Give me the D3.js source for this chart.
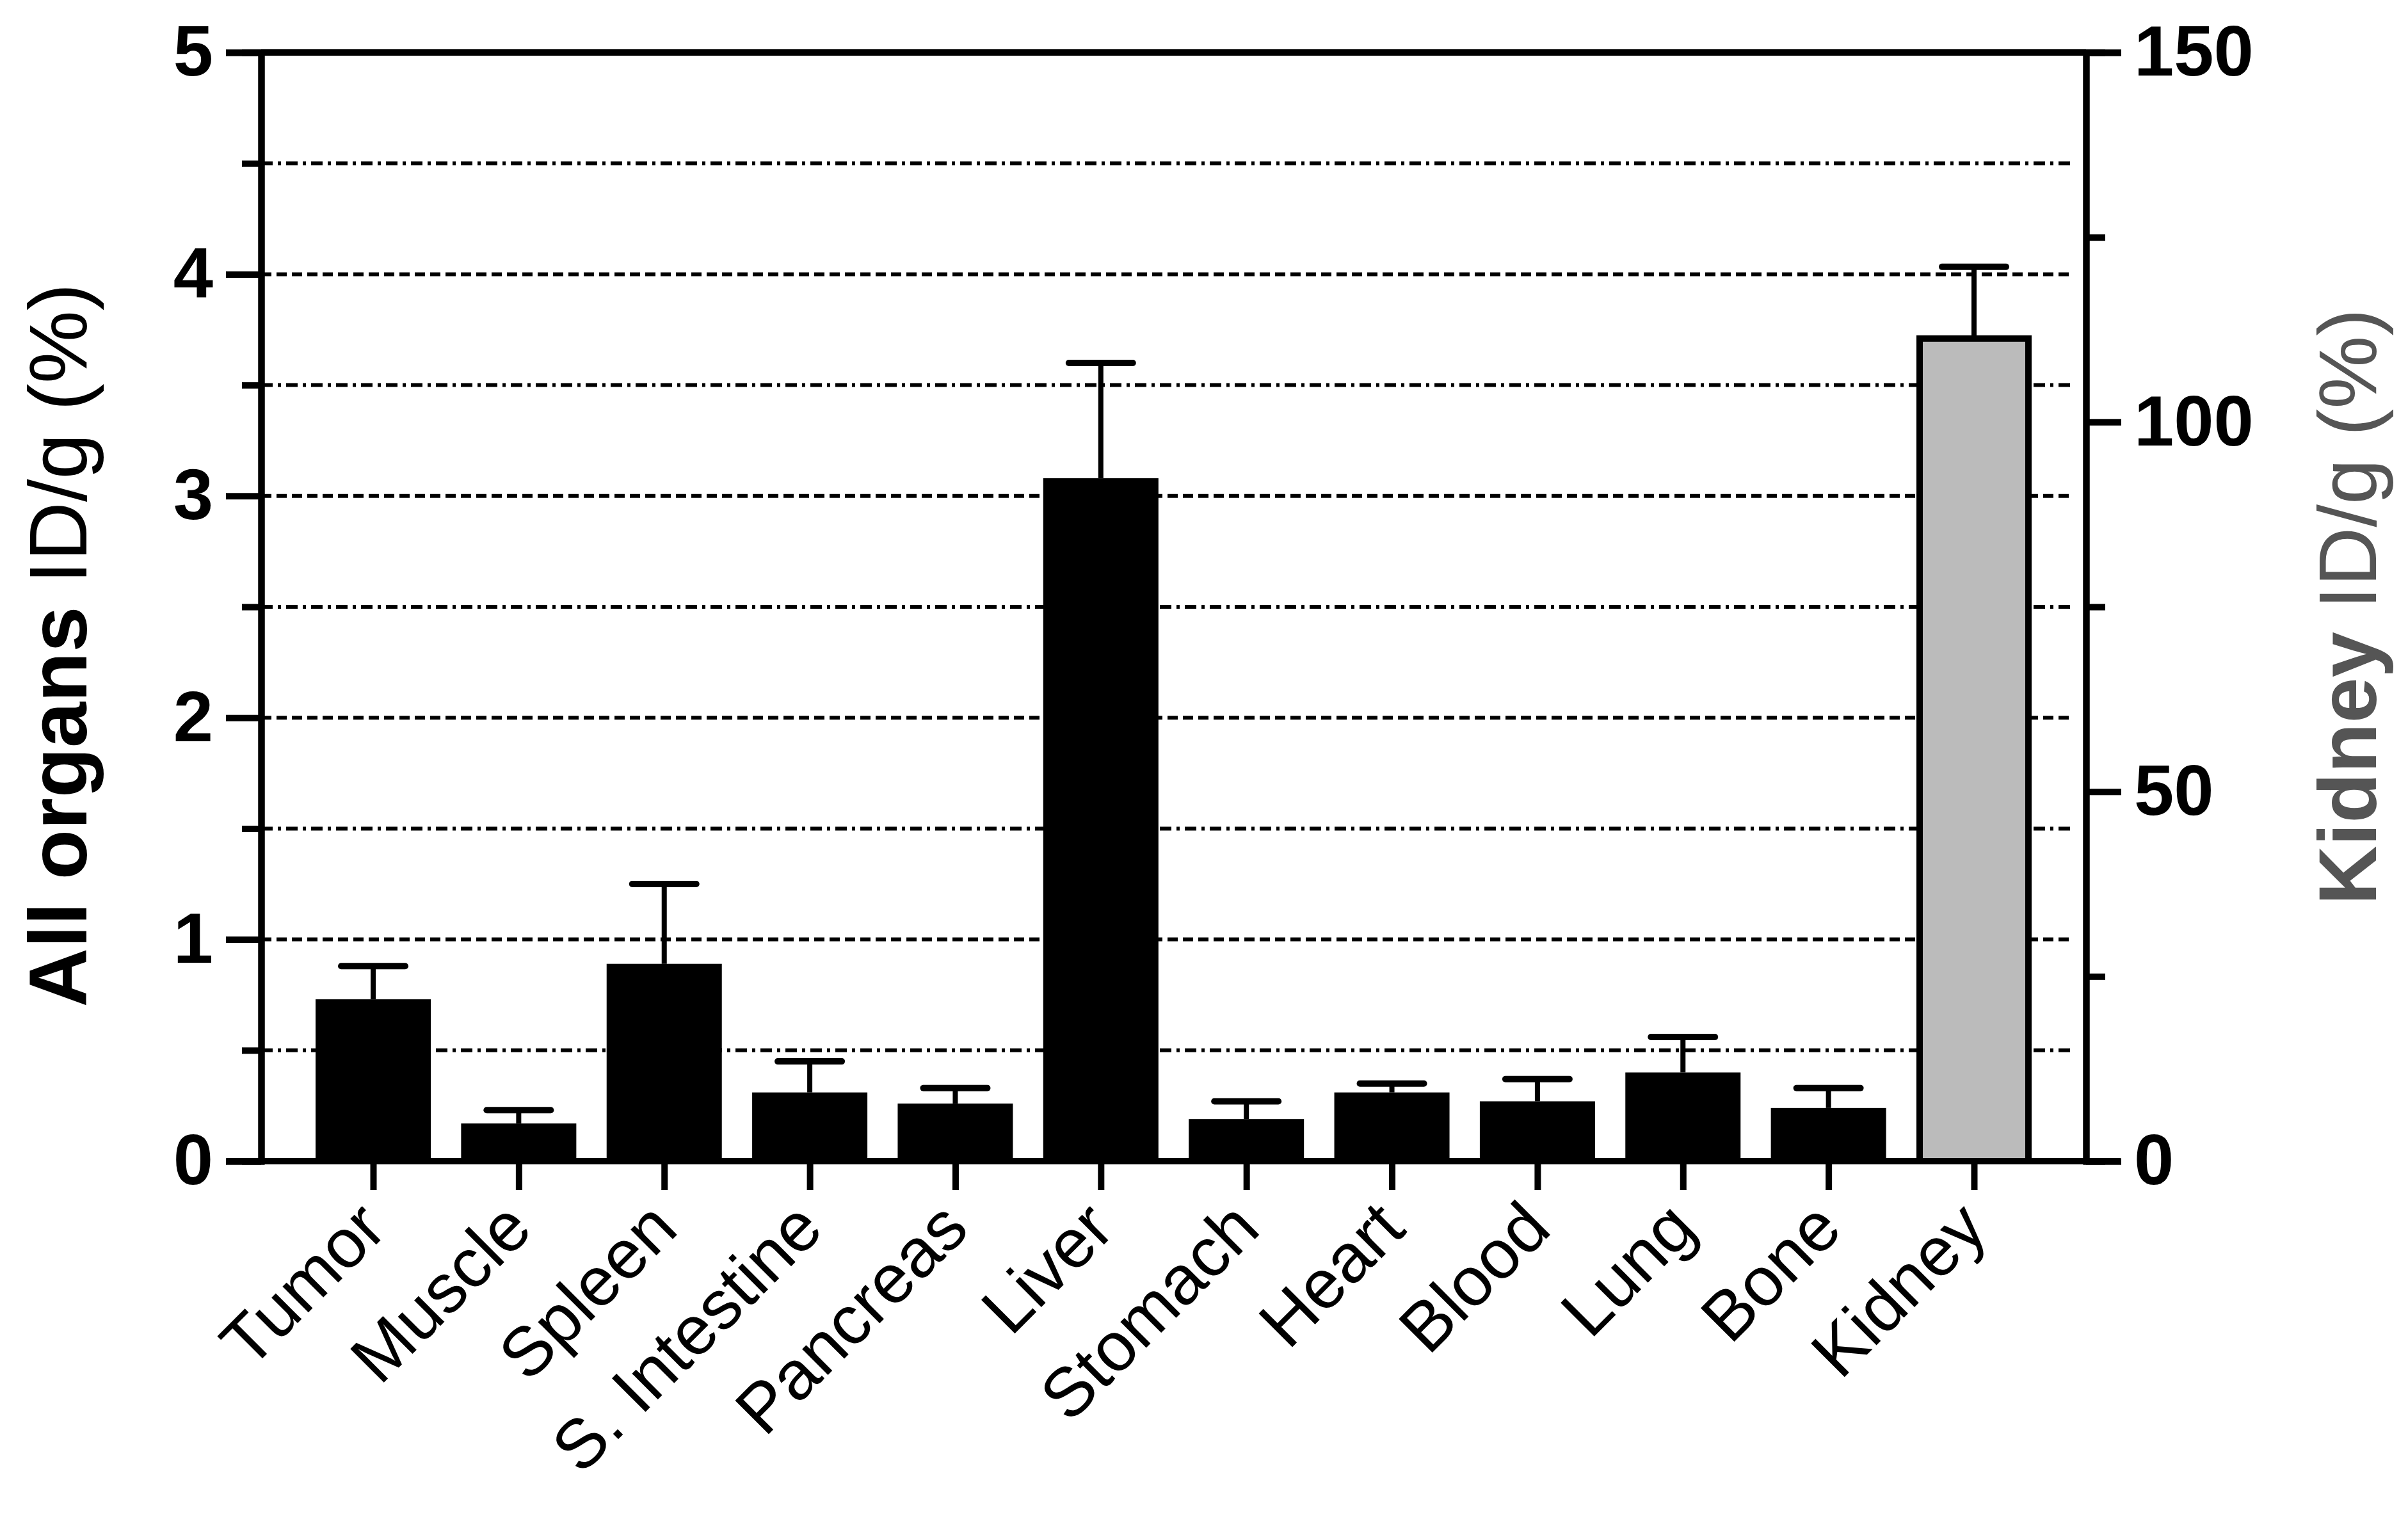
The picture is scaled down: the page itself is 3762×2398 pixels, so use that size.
<!DOCTYPE html>
<html><head><meta charset="utf-8">
<script src="https://cdn.jsdelivr.net/npm/d3@7"></script>
<style>body{margin:0;background:#fff}text{font-family:Arial,"Liberation Sans",sans-serif}</style>
</head><body><svg id="chart" width="3762" height="2398"></svg>
<script>
const organs = ["Tumor","Muscle","Spleen","S. Intestine","Pancreas","Liver","Stomach","Heart","Blood","Lung","Bone","Kidney"];
const means = [0.73,0.17,0.89,0.31,0.26,3.08,0.19,0.31,0.27,0.40,0.24,111.3];
const errTops = [0.88,0.23,1.25,0.45,0.33,3.60,0.27,0.35,0.37,0.56,0.33,121.0];
const leftTicks = [0,1,2,3,4,5];
const rightTicks = [0,50,100,150];

const svg = d3.select("#chart");
const axisLeftX = 408, axisRightX = 3259, y0 = 1814, yTop = 82;
const x = d3.scalePoint().domain(organs).range([583, 3084]);
const yL = d3.scaleLinear().domain([0, 5]).range([y0, yTop]);
const yR = d3.scaleLinear().domain([0, 150]).range([y0, yTop]);
const barW = 180, lw = 10;
const yFor = (i, v) => organs[i] === "Kidney" ? yR(v) : yL(v);

// gridlines
d3.range(0.5, 5, 0.5).forEach(v => {
  svg.append("line").attr("x1", axisLeftX).attr("x2", axisRightX - 25)
    .attr("y1", yL(v)).attr("y2", yL(v))
    .attr("stroke", "#000").attr("stroke-width", 6)
    .attr("stroke-dasharray", Number.isInteger(v) ? "16,8" : "18,8,5,8");
});

// bars
organs.forEach((o, i) => {
  const cx = x(o), top = yFor(i, means[i]), et = yFor(i, errTops[i]);
  const kid = o === "Kidney";
  svg.append("line").attr("x1", cx).attr("x2", cx).attr("y1", top).attr("y2", et)
    .attr("stroke", "#000").attr("stroke-width", 8);
  svg.append("line").attr("x1", cx - 50).attr("x2", cx + 50).attr("y1", et).attr("y2", et)
    .attr("stroke", "#000").attr("stroke-width", 10).attr("stroke-linecap", "round");
  svg.append("rect").attr("x", cx - barW / 2 + (kid ? lw / 2 : 0)).attr("y", top)
    .attr("width", barW - (kid ? lw : 0)).attr("height", y0 - top)
    .attr("fill", kid ? "#bbbbbb" : "#000").attr("stroke", "#000").attr("stroke-width", kid ? lw : 0);
});

// axes
const aL = svg.append("g").attr("transform", `translate(${axisLeftX},0)`)
  .call(d3.axisLeft(yL).tickValues(leftTicks).tickSize(55).tickPadding(20).tickFormat(d3.format("d")));
svg.append("g").attr("transform", `translate(${axisLeftX},0)`)
  .call(d3.axisLeft(yL).tickValues(d3.range(0.5, 5, 1)).tickSize(30).tickFormat(""));
const aR = svg.append("g").attr("transform", `translate(${axisRightX},0)`)
  .call(d3.axisRight(yR).tickValues(rightTicks).tickSize(55).tickPadding(20));
svg.append("g").attr("transform", `translate(${axisRightX},0)`)
  .call(d3.axisRight(yR).tickValues([25, 75, 125]).tickSize(30).tickFormat(""));
const aX = svg.append("g").attr("transform", `translate(0,${y0})`)
  .call(d3.axisBottom(x).tickSize(45).tickFormat(""));
svg.append("line").attr("x1", 355).attr("x2", 3312).attr("y1", y0).attr("y2", y0)
  .attr("stroke", "#000").attr("stroke-width", lw);
svg.append("line").attr("x1", axisLeftX).attr("x2", axisRightX).attr("y1", yTop).attr("y2", yTop)
  .attr("stroke", "#000").attr("stroke-width", lw);
aX.select(".domain").remove();
svg.selectAll(".domain").attr("stroke-width", lw);
svg.selectAll(".tick line").attr("stroke-width", lw);
[aL, aR].forEach(a => a.selectAll("text").attr("font-size", 112).attr("font-weight", "bold"));

// category labels
organs.forEach(o => {
  svg.append("text").attr("transform", `translate(${x(o) + 25},${y0 + 110}) rotate(-45)`)
    .attr("text-anchor", "end").attr("font-size", 108).text(o);
});

// titles
svg.append("text").attr("transform", `translate(135,${(yTop + y0) / 2 + 60}) rotate(-90)`)
  .attr("text-anchor", "middle").attr("font-size", 128)
  .call(t => { t.append("tspan").attr("font-weight", "bold").text("All organs"); t.append("tspan").text(" ID/g (%)"); });
svg.append("text").attr("transform", `translate(3712,${(yTop + y0) / 2}) rotate(-90)`)
  .attr("text-anchor", "middle").attr("font-size", 128).attr("fill", "#555")
  .call(t => { t.append("tspan").attr("font-weight", "bold").text("Kidney"); t.append("tspan").text(" ID/g (%)"); });
</script></body></html>
